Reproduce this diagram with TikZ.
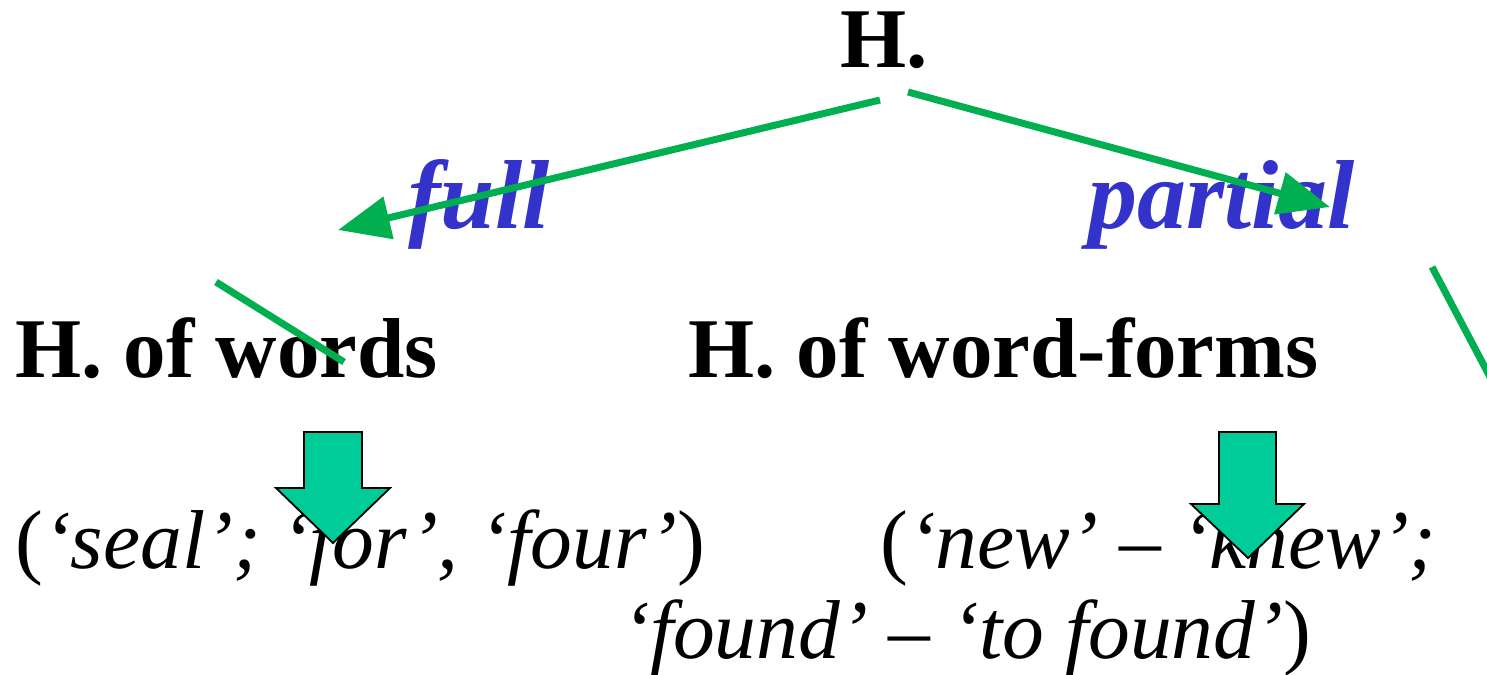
\documentclass[tikz,border=0pt]{standalone}
\usepackage{fontspec}
\setmainfont{Liberation Serif}
\usetikzlibrary{arrows.meta}
\definecolor{SlideGreen}{HTML}{00B050}
\definecolor{SlideTeal}{HTML}{00CC99}
\definecolor{SlideBlue}{HTML}{3333CC}

\begin{document}
\begin{tikzpicture}[x=1pt,y=-1pt,
  every node/.style={inner sep=0pt,anchor=base west},
  headline/.style={font=\bfseries\fontsize{85}{90}\selectfont},
  example/.style={font=\itshape\fontsize{83.5}{90}\selectfont},
  branch/.style={text=SlideBlue,font=\bfseries\itshape\fontsize{98}{100}\selectfont},
  greenline/.style={SlideGreen,line width=7pt},
  greenarrow/.style={greenline,-{Triangle[length=52pt,width=42pt]}},
  blockarrow/.style={fill=SlideTeal,draw=black,line width=1.8pt,line join=miter}]

        \useasboundingbox (0,0) rectangle (1487,674);

        % headings
        \node[headline,anchor=base] (root) at (884,68) {H.};
        \node[branch] (full) at (408,228) {full};
        \node[branch] (partial) at (1088,228) {partial};
        \node[headline] (words) at (15,377) {H. of words};
        \node[headline] (forms) at (688,377) {H. of word-forms};

        % examples
        \node[example] (wordex) at (15,568) {\textup{(}‘seal’; ‘for’, ‘four’\textup{)}};
        \node[example] (formex) at (880,568) {\textup{(}‘new’ – ‘knew’;};
        \node[example] (formexb) at (622,658) {‘found’ – ‘to found’\textup{)}};

        % arrows from the root
        \coordinate (fullstart) at (880,100);
        \coordinate (fulltip) at (338,230);
        \coordinate (partstart) at (908,92);
        \coordinate (parttip) at (1330,207);
        \draw[greenarrow] (fullstart) -- (fulltip);
        \draw[greenarrow] (partstart) -- (parttip);

        % stray strokes
        \coordinate (strayA) at (216,282);
        \coordinate (strayB) at (344,362);
        \coordinate (strayC) at (1432,267);
        \coordinate (strayD) at (1490,377);
        \draw[greenline] (strayA) -- (strayB);
        \draw[greenline] (strayC) -- (strayD);

        % block arrows
        \draw[blockarrow] (304,432) -- (362,432) -- (362,488) -- (390,488)
          -- (333,543) -- (276,488) -- (304,488) -- cycle;
        \draw[blockarrow] (1219,432) -- (1276,432) -- (1276,504) -- (1304,504)
          -- (1248,558) -- (1191,504) -- (1219,504) -- cycle;

      \end{tikzpicture}
\end{document}
